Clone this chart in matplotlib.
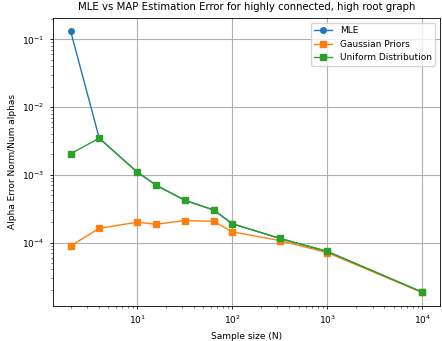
import matplotlib
matplotlib.use("Agg")
import matplotlib.pyplot as plt

plt.rcParams["font.family"] = ["DejaVu Sans"]
plt.rcParams["font.size"] = 6.5

# 样本量与误差
sample_sizes = [2, 4, 10, 16, 32, 64, 100, 316, 1000, 10000]
mle_err = [0.132, 3.47e-3, 1.10e-3, 6.97e-4, 4.19e-4, 3.02e-4, 1.90e-4, 1.15e-4, 7.4e-5, 1.85e-5]
gauss_err = [8.9e-5, 1.62e-4, 1.99e-4, 1.86e-4, 2.11e-4, 2.06e-4, 1.44e-4, 1.07e-4, 7.1e-5, 1.83e-5]
uniform_err = [2.04e-3, 3.47e-3, 1.10e-3, 6.97e-4, 4.19e-4, 3.02e-4, 1.90e-4, 1.15e-4, 7.4e-5, 1.85e-5]

fig, ax = plt.subplots(figsize=(4.42, 3.41), dpi=100)
fig.subplots_adjust(left=0.12, right=0.995, top=0.947, bottom=0.104)

ax.plot(sample_sizes, mle_err, marker='o', color='#1f77b4', linewidth=1.0, markersize=4, label='MLE')
ax.plot(sample_sizes, gauss_err, marker='s', color='#ff7f0e', linewidth=1.0, markersize=4, label='Gaussian Priors')
ax.plot(sample_sizes, uniform_err, marker='s', color='#2ca02c', linewidth=1.0, markersize=4, label='Uniform Distribution')

ax.set_xscale('log')
ax.set_yscale('log')
ax.set_title('MLE vs MAP Estimation Error for highly connected, high root graph', fontsize=7.3)
ax.set_xlabel('Sample size (N)', fontsize=6.5)
ax.set_ylabel('Alpha Error Norm/Num alphas', fontsize=6.5)
ax.legend(loc='upper right', fontsize=6.5)
ax.grid(True, which='major', color='#b0b0b0', linewidth=0.8)
for sp in ax.spines.values():
    sp.set_linewidth(0.6)
ax.tick_params(which='major', length=2.5, width=0.6)
ax.tick_params(which='minor', length=1.5, width=0.4)

plt.savefig('out.png', dpi=100)
plt.close()
